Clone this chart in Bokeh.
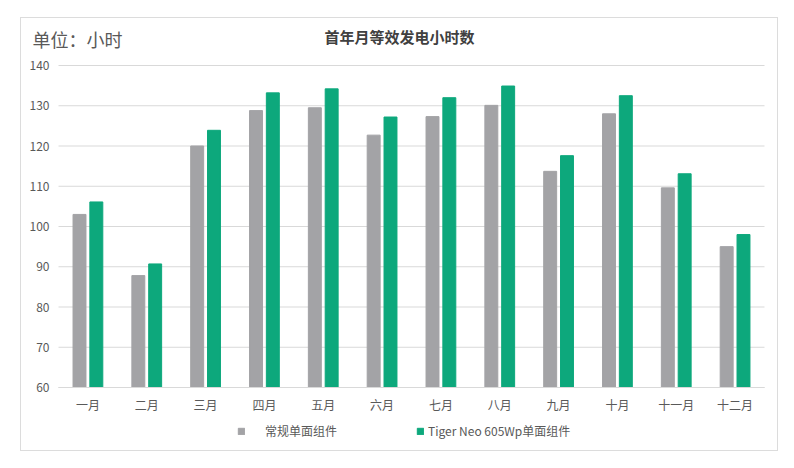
from bokeh.plotting import figure
from bokeh.models import (Range1d, Label, Legend, LegendItem,
                          ColumnDataSource, FixedTicker)
from bokeh.transform import dodge
from bokeh.embed import file_html
from bokeh.resources import INLINE

months = ["一月", "二月", "三月", "四月", "五月", "六月",
          "七月", "八月", "九月", "十月", "十一月", "十二月"]
conventional = [103.0, 87.8, 120.0, 128.8, 129.5, 122.7,
                127.3, 130.1, 113.7, 128.0, 109.6, 95.0]
tiger_neo = [106.1, 90.7, 123.9, 133.2, 134.2, 127.2,
             132.0, 134.9, 117.6, 132.5, 113.1, 98.0]
series_names = ["常规单面组件", "Tiger Neo 605Wp单面组件"]
y_ticks = [60, 70, 80, 90, 100, 110, 120, 130, 140]
title_text = "首年月等效发电小时数"
unit_text = "单位：小时"

FONT = "Noto Sans CJK SC"
GRAY = "#A3A3A6"
GREEN = "#0DA87C"
TXT = "#595959"

# category centres on a numeric scale (one unit per month)
xc = [i + 0.5 for i in range(len(months))]
src = ColumnDataSource(dict(x=xc, a=conventional, b=tiger_neo))

W, H = 778, 452
PX_X = 706 / 12.0   # pixels per month
PX_Y = 322 / 80.0   # pixels per hour
y0, y1 = y_ticks[0], y_ticks[-1]
p = figure(width=W, height=H, output_backend="svg",
           toolbar_location=None, tools="",
           x_range=Range1d(-58 / PX_X, len(months) + 14 / PX_X),
           y_range=Range1d(y0 - 65 / PX_Y, y1 + 65 / PX_Y))
line = "linear-gradient(#dcdcdc, #dcdcdc)"
p.styles = {
    "background-image": ", ".join([line] * 4),
    "background-size": "758px 1px, 758px 1px, 1px 434px, 1px 434px",
    "background-position": "20px 17px, 20px 450px, 20px 17px, 777px 17px",
    "background-repeat": "no-repeat",
}
p.border_fill_color = None
p.background_fill_color = None
p.min_border = 0
p.min_border_left = 0
p.min_border_right = 0
p.min_border_top = 0
p.min_border_bottom = 0
p.outline_line_color = None
p.xgrid.visible = False
p.ygrid.visible = False

# horizontal grid lines, limited to the month span
p.segment(x0=0, x1=len(months), y0=y_ticks, y1=y_ticks,
          line_color="#d9d9d9", line_width=1)

r1 = p.vbar(x=dodge("x", -0.143), top="a", bottom=y0, width=0.22,
            source=src, color=GRAY)
r2 = p.vbar(x=dodge("x", 0.143), top="b", bottom=y0, width=0.22,
            source=src, color=GREEN)

xa, ya = p.xaxis[0], p.yaxis[0]
xa.fixed_location = y0
xa.bounds = (0, len(months))
xa.ticker = FixedTicker(ticks=xc)
xa.major_label_overrides = {x: m for x, m in zip(xc, months)}
xa.axis_line_color = "#d9d9d9"
xa.major_label_standoff = 2
ya.fixed_location = 0
ya.ticker = FixedTicker(ticks=y_ticks)
ya.axis_line_color = None
ya.major_label_standoff = 3
for ax in (xa, ya):
    ax.major_tick_line_color = None
    ax.minor_tick_line_color = None
    ax.major_label_text_font = FONT
    ax.major_label_text_font_size = "12px"
    ax.major_label_text_color = TXT

p.add_layout(Label(x=341 / PX_X, y=y1 + 29 / PX_Y, text=title_text,
                   text_font=FONT, text_font_size="15px",
                   text_font_style="bold", text_color="#404040",
                   text_align="center", text_baseline="middle"))
p.add_layout(Label(x=-26 / PX_X, y=y1 + 27 / PX_Y, text=unit_text,
                   text_font=FONT, text_font_size="18px",
                   text_color=TXT, text_align="left",
                   text_baseline="middle"))

def mk_legend(name, rend, loc, standoff):
    return Legend(items=[LegendItem(label=name, renderers=[rend])],
                  location=loc, orientation="horizontal",
                  padding=0, margin=0, spacing=0, border_line_color=None,
                  background_fill_alpha=0, glyph_width=8, glyph_height=8,
                  label_height=8, label_standoff=standoff,
                  label_text_font=FONT, label_text_font_size="12px",
                  label_text_color=TXT)

p.add_layout(mk_legend(series_names[0], r1, (237, 13), 20))
p.add_layout(mk_legend(series_names[1], r2, (416, 13), 4))

open("out.html", "w").write(file_html(p, INLINE))
